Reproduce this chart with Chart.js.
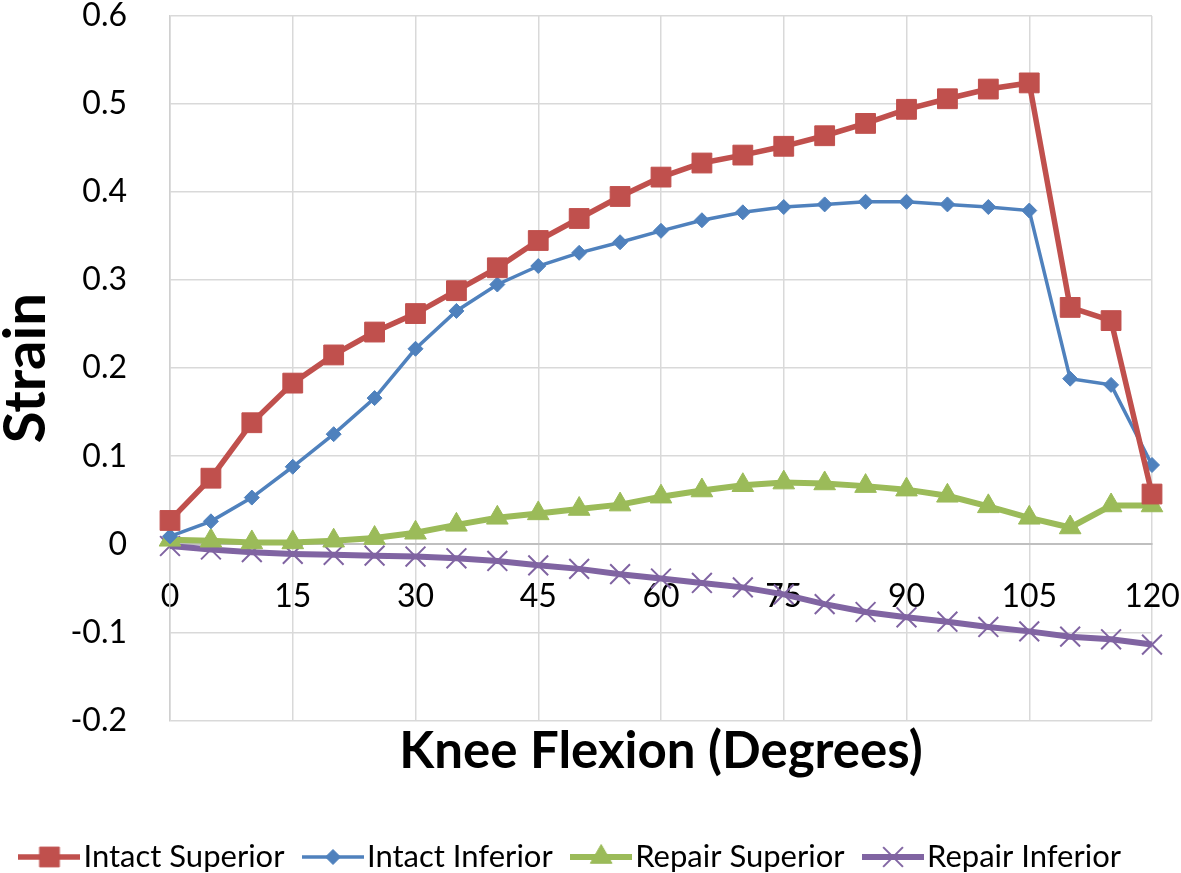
<!DOCTYPE html>
<html>
<head>
<meta charset="utf-8">
<script src="https://cdn.jsdelivr.net/npm/chart.js@4.4.1/dist/chart.umd.min.js"></script>
<style>
  html, body { margin: 0; padding: 0; background: #fff; }
</style>
</head>
<body>
<canvas id="chart" width="1181" height="873"></canvas>
<script>
// knee flexion angle (degrees)
const flexion = [0, 5, 10, 15, 20, 25, 30, 35, 40, 45, 50, 55, 60, 65, 70, 75, 80, 85, 90, 95, 100, 105, 110, 115, 120];

const intactSuperior = [0.027, 0.075, 0.138, 0.183, 0.215, 0.241, 0.262, 0.288, 0.314, 0.345, 0.370, 0.395, 0.417,
  0.433, 0.442, 0.452, 0.464, 0.478, 0.494, 0.506, 0.517, 0.524, 0.269, 0.254, 0.057];
const intactInferior = [0.009, 0.026, 0.053, 0.088, 0.125, 0.166, 0.222, 0.265, 0.295, 0.316, 0.331, 0.343, 0.356,
  0.368, 0.377, 0.383, 0.386, 0.389, 0.389, 0.386, 0.383, 0.379, 0.188, 0.181, 0.090];
const repairSuperior = [0.005, 0.004, 0.002, 0.002, 0.004, 0.007, 0.013, 0.022, 0.030, 0.035, 0.040, 0.045, 0.054,
  0.061, 0.067, 0.070, 0.069, 0.066, 0.062, 0.055, 0.043, 0.030, 0.019, 0.044, 0.044];
const repairInferior = [-0.002, -0.006, -0.009, -0.011, -0.012, -0.013, -0.014, -0.016, -0.019, -0.024, -0.028, -0.034, -0.039,
  -0.044, -0.049, -0.057, -0.068, -0.077, -0.083, -0.088, -0.094, -0.099, -0.105, -0.108, -0.114];

const seriesNames = ['Intact Superior', 'Intact Inferior', 'Repair Superior', 'Repair Inferior'];
const xTitle = 'Knee Flexion (Degrees)';
const yTitle = 'Strain';

const FONT = 'Lato';

function toPoints(vals) {
  return flexion.map((x, i) => ({x: x, y: vals[i]}));
}

// small canvas with line + marker, used as legend symbol
function legendIcon(color, lineW, style, r, markLine) {
  const c = document.createElement('canvas');
  c.width = 62; c.height = 30;
  const g = c.getContext('2d');
  g.strokeStyle = color;
  g.fillStyle = color;
  g.lineWidth = lineW;
  g.beginPath(); g.moveTo(0, 15); g.lineTo(62, 15); g.stroke();
  const cx = 31, cy = 15;
  g.lineWidth = markLine;
  g.beginPath();
  if (style === 'rect') {
    const s = r * Math.SQRT1_2;
    g.rect(cx - s, cy - s, 2 * s, 2 * s);
    g.fill(); g.stroke();
  } else if (style === 'rectRot') {
    g.moveTo(cx - r, cy); g.lineTo(cx, cy - r); g.lineTo(cx + r, cy); g.lineTo(cx, cy + r); g.closePath();
    g.fill(); g.stroke();
  } else if (style === 'triangle') {
    g.moveTo(cx, cy - r);
    g.lineTo(cx + r * Math.sin(Math.PI / 3), cy + r / 2);
    g.lineTo(cx - r * Math.sin(Math.PI / 3), cy + r / 2);
    g.closePath();
    g.fill(); g.stroke();
  } else {
    const s = r * Math.SQRT1_2;
    g.moveTo(cx - s, cy - s); g.lineTo(cx + s, cy + s);
    g.moveTo(cx + s, cy - s); g.lineTo(cx - s, cy + s);
    g.stroke();
  }
  return c;
}

const colors = ['#C0504D', '#4F81BD', '#9BBB59', '#8064A2'];
const lineWidths = [5.5, 3.5, 6, 6];
const markers = ['rect', 'rectRot', 'triangle', 'crossRot'];
const markerRadius = [14, 7.5, 12.5, 14];
const markerBorder = [1, 1, 1, 2];
const allValues = [intactSuperior, intactInferior, repairSuperior, repairInferior];

const icons = colors.map((c, i) => legendIcon(c, lineWidths[i], markers[i], markerRadius[i], markerBorder[i]));

const datasets = allValues.map((vals, i) => ({
  label: seriesNames[i],
  data: toPoints(vals),
  borderColor: colors[i],
  backgroundColor: colors[i],
  borderWidth: lineWidths[i],
  pointStyle: markers[i],
  pointRadius: markerRadius[i],
  pointBorderWidth: markerBorder[i],
  pointBackgroundColor: colors[i],
  pointBorderColor: colors[i],
  tension: 0,
  clip: false
}));

const ctx = document.getElementById('chart').getContext('2d');
const myChart = new Chart(ctx, {
  type: 'line',
  data: { datasets: datasets },
  options: {
    responsive: false,
    animation: false,
    layout: { padding: { top: 13.5, right: 29, left: 0, bottom: -9.5 } },
    scales: {
      x: {
        type: 'linear',
        position: { y: 0 },
        min: 0,
        max: 120,
        ticks: { stepSize: 15, padding: 33, color: '#000', font: { family: FONT, size: 32 } },
        grid: { color: '#d9d9d9', lineWidth: 1.5, drawTicks: false },
        border: { color: '#bfbfbf', width: 2 },
        afterFit(scale) { scale.paddingLeft = 0; scale.paddingRight = 0; }
      },
      y: {
        min: -0.2,
        max: 0.6,
        ticks: {
          stepSize: 0.1, padding: 43, color: '#000', font: { family: FONT, size: 32 },
          callback: v => String(+v.toFixed(1))
        },
        grid: { color: '#d9d9d9', lineWidth: 1.5, drawTicks: false },
        border: { color: '#d0d0d0', width: 1.5 },
        title: {
          display: true, text: yTitle, color: '#000',
          font: { family: FONT, size: 58, weight: 'bold', lineHeight: 1 },
          padding: { top: -3, bottom: 0 }
        },
        afterFit(scale) { scale.width = 170; scale.paddingTop = 0; scale.paddingBottom = 0; }
      }
    },
    plugins: {
      title: {
        display: true,
        text: xTitle,
        position: 'bottom',
        fullSize: false,
        weight: 500,
        color: '#000',
        font: { family: FONT, size: 51, weight: 'bold', lineHeight: 1.2 },
        padding: { top: 1, bottom: 29 }
      },
      legend: {
        position: 'bottom',
        labels: {
          usePointStyle: true,
          pointStyleWidth: 37,
          padding: 30,
          color: '#000',
          font: { family: FONT, size: 31 },
          generateLabels(chart) {
            return chart.data.datasets.map((ds, i) => ({
              text: ds.label,
              pointStyle: icons[i],
              datasetIndex: i,
              hidden: false,
              fontColor: '#000',
              lineWidth: 0,
              strokeStyle: 'transparent',
              fillStyle: 'transparent'
            }));
          }
        }
      },
      tooltip: { enabled: false }
    }
  }
});
</script>
</body>
</html>
